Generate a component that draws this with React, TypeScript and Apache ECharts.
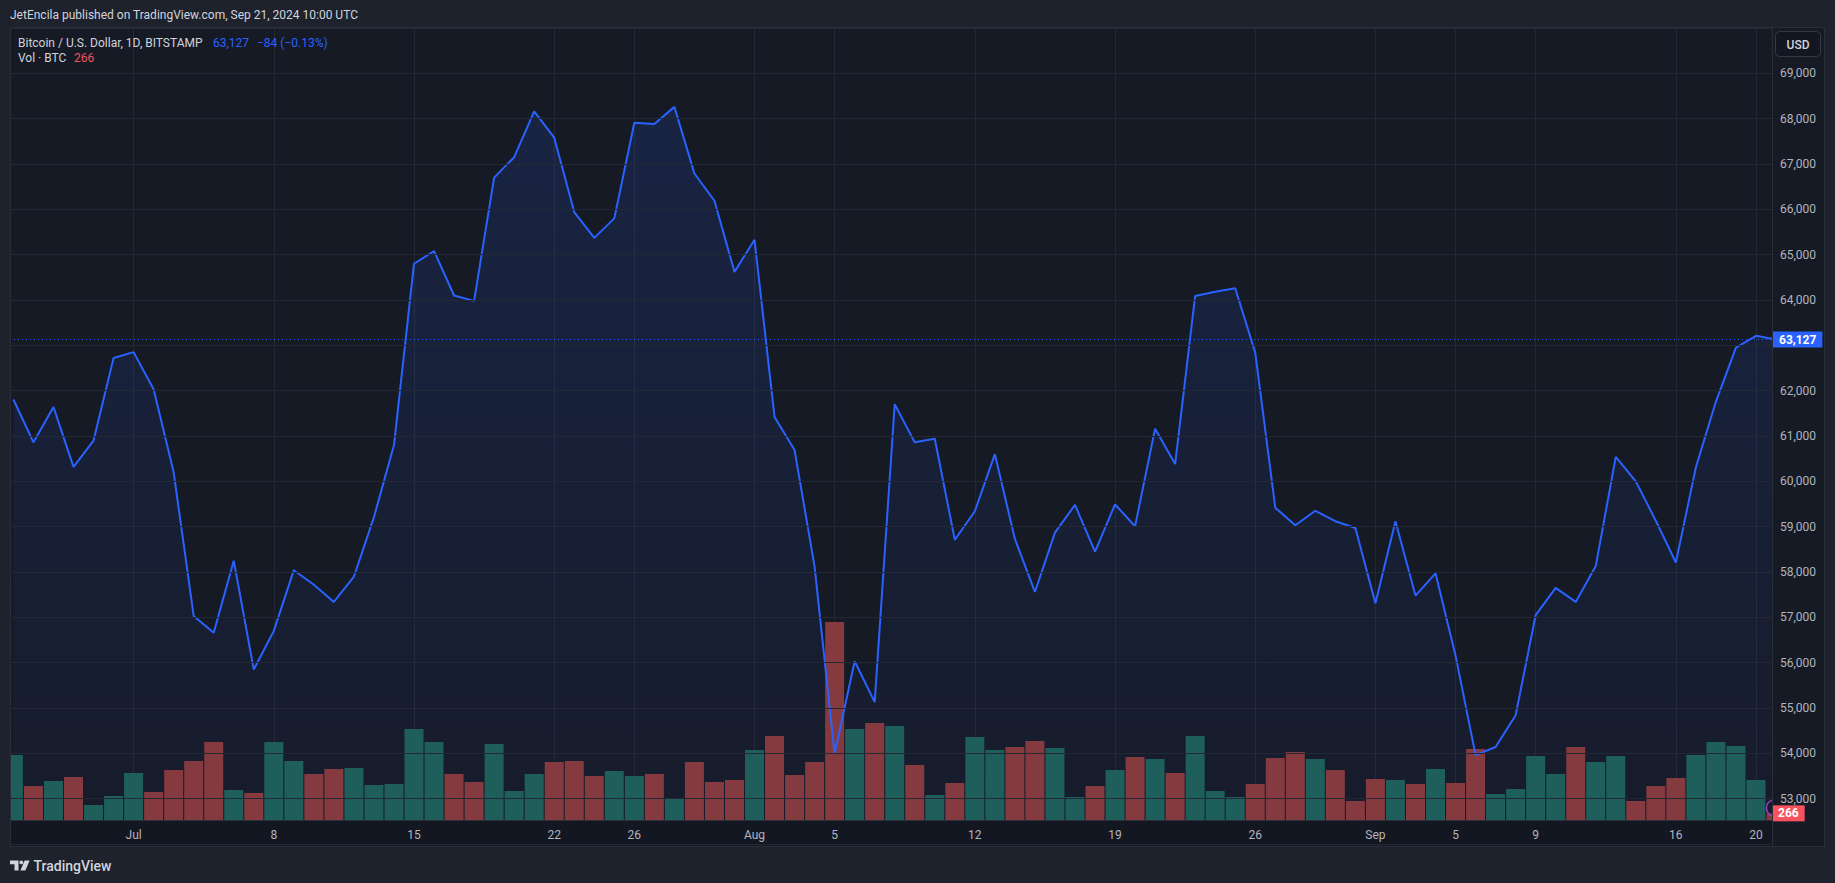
import React, { useEffect, useRef } from 'react';
import * as echarts from 'echarts';

// ---------- data ----------
const startDate = '2024-06-25';

const closes = [
  // Jun 25 - Jun 30
  61805, 60860, 61640, 60320, 60900, 62720,
  // Jul
  62850, 62030, 60200, 57030, 56660, 58250, 55850, 56700, 58040, 57720,
  57340, 57900, 59210, 60800, 64800, 65080, 64100, 63980, 66700, 67150,
  68160, 67580, 65940, 65370, 65800, 67910, 67880, 68260, 66790, 66190, 64620,
  // Aug
  65330, 61420, 60690, 58120, 53990, 56030, 55130, 61700, 60860, 60940,
  58710, 59340, 60600, 58730, 57560, 58870, 59480, 58450, 59490, 59010,
  61160, 60380, 64090, 64180, 64260, 62840, 59420, 59030, 59350, 59120, 58970,
  // Sep 1 - Sep 21
  57310, 59120, 57480, 57970, 56160, 53960, 54140, 54840, 57050, 57650,
  57340, 58130, 60540, 60000, 59130, 58210, 60310, 61760, 62950, 63211, 63127,
];

const volumes = [
  // Jun 25 - Jun 30
  2600, 1360, 1560, 1720, 600, 960,
  // Jul
  1880, 1120, 2000, 2360, 3120, 1200, 1080, 3120, 2360, 1840,
  2040, 2080, 1400, 1440, 3640, 3120, 1840, 1520, 3040, 1160,
  1840, 2320, 2360, 1760, 1960, 1760, 1840, 880, 2320, 1520, 1600,
  // Aug
  2800, 3360, 1800, 2320, 7920, 3640, 3880, 3760, 2200, 1000,
  1480, 3320, 2800, 2920, 3160, 2880, 920, 1360, 2000, 2520,
  2440, 1880, 3360, 1160, 920, 1440, 2480, 2720, 2440, 2000, 760,
  // Sep 1 - Sep 21
  1640, 1600, 1440, 2040, 1480, 2840, 1040, 1240, 2560, 1840,
  2920, 2320, 2560, 760, 1360, 1680, 2600, 3120, 2960, 1600, 266,
];

const tickDates = [
  '2024-07-01', '2024-07-08', '2024-07-15', '2024-07-22', '2024-07-26',
  '2024-08-01', '2024-08-05', '2024-08-12', '2024-08-19', '2024-08-26',
  '2024-09-01', '2024-09-05', '2024-09-09', '2024-09-16', '2024-09-20',
];
const tickLabels = ['Jul', '8', '15', '22', '26', 'Aug', '5', '12', '19', '26', 'Sep', '5', '9', '16', '20'];

const publishedText = 'JetEncila published on TradingView.com, Sep 21, 2024 10:00 UTC';
const symbolTitle = 'Bitcoin / U.S. Dollar, 1D, BITSTAMP';
const volTitle = 'Vol · BTC';
const currency = 'USD';

// ---------- helpers ----------
const dayNum = (s: string) => {
  const [y, m, d] = s.split('-').map(Number);
  return Date.UTC(y, m - 1, d) / 86400000;
};
const fmt = (v: number) => Math.round(v).toLocaleString('en-US');
const minus = (s: string) => s.replace('-', '\u2212');

const FONT = 'Roboto, "Liberation Sans", "DejaVu Sans", sans-serif';
const UP = '#1e5f5c';
const DOWN = '#853a40';
const BLUE = '#2962ff';
const PLOT_BG = '#161a25';
const PAGE_BG = '#1e222d';
const BORDER = '#2a2e39';

export default function App() {
  const ref = useRef<HTMLDivElement>(null);

  useEffect(() => {
    document.body.style.margin = '0';
    if (!ref.current) return;
    const chart = echarts.init(ref.current, undefined, { renderer: 'svg' });

    const x0 = dayNum(startDate);
    const xs = closes.map((_, i) => x0 + i);
    const pricePts = closes.map((c, i) => [xs[i], c]);
    const volPts = volumes.map((v, i) => ({
      value: [xs[i], v],
      itemStyle: { color: i === 0 || closes[i] >= closes[i - 1] ? UP : DOWN },
    }));
    const tickXs = tickDates.map(dayNum);
    const jul1 = dayNum('2024-07-01');
    const xMin = jul1 - 6.171;
    const xMax = jul1 + 81.8;

    const last = closes[closes.length - 1];
    const prev = closes[closes.length - 2];
    const chg = last - prev;
    const pct = (chg / prev) * 100;
    const lastVol = volumes[volumes.length - 1];

    const textBase = { fontFamily: FONT, fontSize: 12, verticalAlign: 'middle' as const };

    chart.setOption({
      animation: false,
      backgroundColor: PAGE_BG,
      grid: [
        { left: 10, top: 28, width: 1762, height: 816 },
        { left: 10, top: 600, width: 1762, height: 220 },
      ],
      xAxis: [
        {
          type: 'value', gridIndex: 0, min: xMin, max: xMax,
          axisLine: { show: false },
          axisTick: { show: false, customValues: tickXs },
          axisLabel: { show: false, customValues: tickXs },
          splitLine: { show: true, lineStyle: { color: '#242834', width: 1 } },
        },
        {
          type: 'value', gridIndex: 1, min: xMin, max: xMax, z: 20,
          axisLine: { show: true, lineStyle: { color: BORDER, width: 1 } },
          axisTick: { show: false, customValues: tickXs },
          splitLine: { show: false },
          axisLabel: {
            customValues: tickXs,
            color: '#b2b5be', fontSize: 12, fontFamily: FONT, margin: 9,
            formatter: (v: number) => {
              const k = tickXs.indexOf(Math.round(v));
              return k >= 0 ? tickLabels[k] : '';
            },
          },
        },
      ],
      yAxis: [
        {
          type: 'value', gridIndex: 0, position: 'right', min: 52000, max: 70000, interval: 1000, z: 20,
          axisLine: { show: false }, axisTick: { show: false },
          splitLine: { show: true, lineStyle: { color: '#242834', width: 1 } },
          axisLabel: {
            color: '#b2b5be', fontSize: 12, fontFamily: FONT, margin: 8, align: 'left',
            // labels hidden under the last-price tag, as on the original
            formatter: (v: number) =>
              v <= 52000 || v >= 70000 || Math.abs(v - last) < 400 ? '' : fmt(v),
          },
        },
        {
          type: 'value', gridIndex: 1, min: 0, max: 8800, show: false,
          splitLine: { show: false },
        },
      ],
      series: [
        {
          name: 'area', type: 'line', xAxisIndex: 0, yAxisIndex: 0, data: pricePts,
          showSymbol: false, silent: true, z: 1, clip: true,
          lineStyle: { width: 0 },
          areaStyle: {
            origin: 'start',
            color: {
              type: 'linear', x: 0, y: 0, x2: 0, y2: 1,
              colorStops: [
                { offset: 0, color: 'rgba(41,98,255,0.20)' },
                { offset: 1, color: 'rgba(41,98,255,0.03)' },
              ],
            },
          },
        },
        {
          name: 'Vol', type: 'bar', xAxisIndex: 1, yAxisIndex: 1, data: volPts,
          barWidth: 19, z: 2, clip: true, silent: true,
        },
        {
          name: 'BTCUSD', type: 'line', xAxisIndex: 0, yAxisIndex: 0, data: pricePts,
          showSymbol: false, silent: true, z: 3, clip: true,
          lineStyle: { color: BLUE, width: 2 },
          markLine: {
            silent: true, symbol: ['none', 'none'], animation: false,
            lineStyle: { color: BLUE, width: 1, type: [1, 3] },
            label: {
              show: true, position: 'end', distance: 1, formatter: fmt(last),
              backgroundColor: BLUE, color: '#ffffff', fontFamily: FONT,
              fontSize: 12, fontWeight: 'bold', padding: [2, 6, 1, 6], lineHeight: 13,
            },
            data: [{ yAxis: last }],
          },
        },
        {
          // carrier for the last-volume tag, drawn above the edge masks
          name: 'VolTag', type: 'line', xAxisIndex: 1, yAxisIndex: 1,
          data: [[xs[xs.length - 1], lastVol]],
          showSymbol: false, silent: true, z: 12, lineStyle: { width: 0 },
          markLine: {
            silent: true, symbol: ['none', 'none'], animation: false,
            lineStyle: { width: 0, color: 'rgba(0,0,0,0)' },
            label: {
              show: true, opacity: 1, position: 'end', distance: 1, formatter: fmt(lastVol),
              backgroundColor: '#f7525f', color: '#ffffff', fontFamily: FONT,
              fontSize: 12, fontWeight: 'bold', padding: [2, 6, 1, 5], lineHeight: 13,
            },
            data: [{ yAxis: lastVol }],
          },
        },
      ],
      graphic: [
        // chart frame / plot background
        {
          type: 'rect', z: -10, silent: true,
          shape: { x: 10.5, y: 27.5, width: 1814, height: 819 },
          style: { fill: PLOT_BG, stroke: BORDER, lineWidth: 1 },
        },
        // edge masks (bars on a value axis overflow the grid)
        {
          type: 'rect', z: 5, silent: true,
          shape: { x: 0, y: 28, width: 10.5, height: 818 },
          style: { fill: PAGE_BG },
        },
        {
          type: 'line', z: 6, silent: true,
          shape: { x1: 10.5, y1: 27.5, x2: 10.5, y2: 846.5 },
          style: { stroke: BORDER, lineWidth: 1 },
        },
        {
          type: 'rect', z: 5, silent: true,
          shape: { x: 1773, y: 700, width: 20, height: 120 },
          style: { fill: PLOT_BG },
        },
        // time axis band
        {
          type: 'rect', z: 10, silent: true,
          shape: { x: 11, y: 820.5, width: 1761, height: 25.5 },
          style: { fill: '#131722' },
        },
        {
          type: 'line', z: 15, silent: true,
          shape: { x1: 1772.5, y1: 28, x2: 1772.5, y2: 846 },
          style: { stroke: BORDER, lineWidth: 1 },
        },
        // currency box
        {
          type: 'rect', z: 15, silent: true,
          shape: { x: 1775.5, y: 31.5, width: 45, height: 25, r: 4 },
          style: { fill: '#131722', stroke: '#363a45', lineWidth: 1 },
        },
        {
          type: 'text', z: 16, silent: true, x: 1798, y: 44.5,
          style: { ...textBase, text: currency, fill: '#d1d4dc', align: 'center', fontWeight: 500 },
        },
        // header
        {
          type: 'text', z: 16, silent: true, x: 10, y: 15,
          style: { ...textBase, fontSize: 12, text: publishedText, fill: '#d1d4dc' },
        },
        // legend
        {
          type: 'text', z: 16, silent: true, x: 18, y: 42.5,
          style: { ...textBase, text: symbolTitle, fill: '#d1d4dc' },
        },
        {
          type: 'text', z: 16, silent: true, x: 213, y: 42.5,
          style: { ...textBase, text: fmt(last), fill: BLUE },
        },
        {
          type: 'text', z: 16, silent: true, x: 257, y: 42.5,
          style: {
            ...textBase, fill: BLUE,
            text: `${minus(String(Math.round(chg)))} (${minus(pct.toFixed(2))}%)`,
          },
        },
        {
          type: 'text', z: 16, silent: true, x: 18, y: 58,
          style: { ...textBase, text: volTitle, fill: '#d1d4dc' },
        },
        {
          type: 'text', z: 16, silent: true, x: 74, y: 58,
          style: { ...textBase, text: fmt(lastVol), fill: '#f7525f' },
        },
        // realtime marker arc
        {
          type: 'arc', z: 16, silent: true,
          shape: { cx: 1775, cy: 808, r: 8.5, startAngle: Math.PI * 0.62, endAngle: Math.PI * 1.38, clockwise: true },
          style: { stroke: '#9c3dbd', lineWidth: 1.5, fill: 'none' },
        },
        // TradingView logo
        {
          type: 'polygon', z: 16, silent: true,
          shape: { points: [[10, 860.5], [18.5, 860.5], [18.5, 870.5], [14.5, 870.5], [14.5, 864.3], [10, 864.3]] },
          style: { fill: '#d1d4dc' },
        },
        {
          type: 'circle', z: 16, silent: true,
          shape: { cx: 21.3, cy: 862.4, r: 1.9 },
          style: { fill: '#d1d4dc' },
        },
        {
          type: 'polygon', z: 16, silent: true,
          shape: { points: [[24.6, 860.5], [29.6, 860.5], [25.4, 870.5], [20.4, 870.5]] },
          style: { fill: '#d1d4dc' },
        },
        {
          type: 'text', z: 16, silent: true, x: 33.5, y: 866,
          style: { ...textBase, fontSize: 14, fontWeight: 500, text: 'TradingView', fill: '#d1d4dc' },
        },
      ],
    });

    return () => chart.dispose();
  }, []);

  return <div ref={ref} style={{ width: 1835, height: 883 }} />;
}
